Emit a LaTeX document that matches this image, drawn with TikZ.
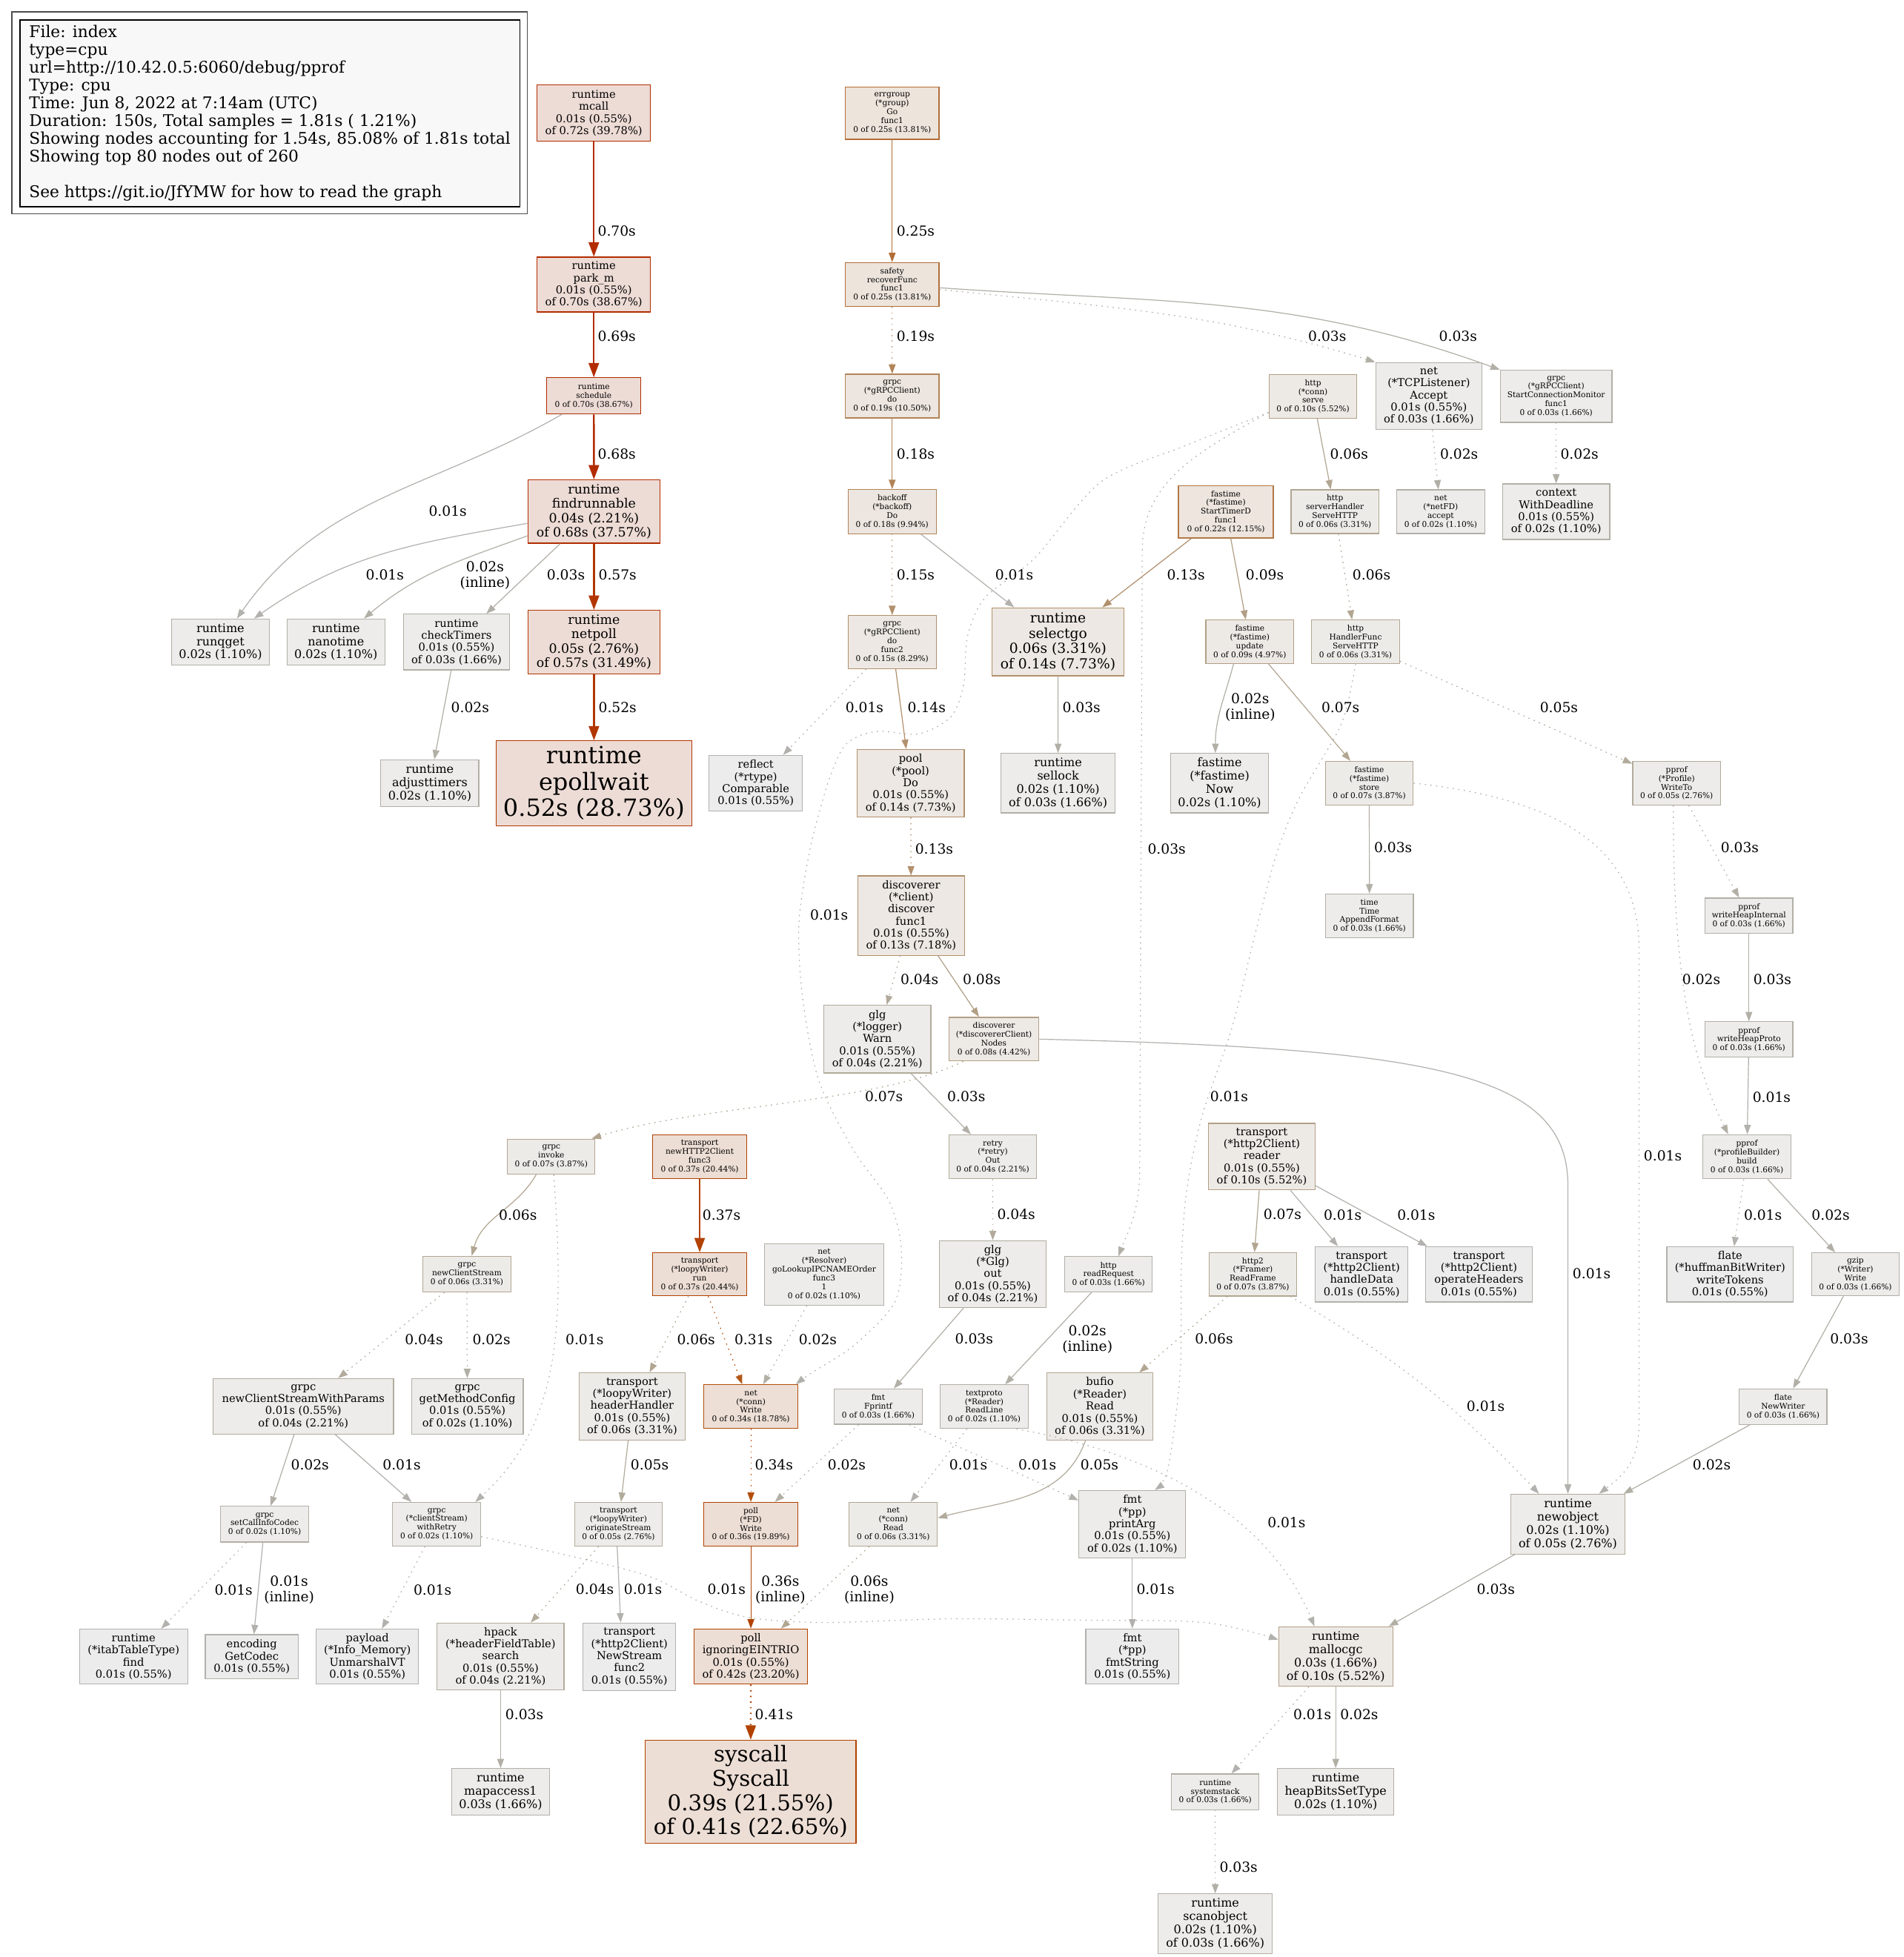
\documentclass[tikz,border=0pt]{standalone}
\usepackage{fontspec}
\setmainfont{DejaVu Serif}
\usepackage{tikz}
\usetikzlibrary{arrows.meta}
% edge / border colours, by share of total samples
\definecolor{ln70}{HTML}{B22C00}
\definecolor{ln55}{HTML}{B23600}
\definecolor{ln40}{HTML}{B24200}
\definecolor{ln34}{HTML}{B24D0A}
\definecolor{ln31}{HTML}{B25819}
\definecolor{ln25}{HTML}{B26E37}
\definecolor{ln22}{HTML}{B27846}
\definecolor{ln19}{HTML}{B28457}
\definecolor{ln14}{HTML}{B2906D}
\definecolor{ln09}{HTML}{B29F85}
\definecolor{ln07}{HTML}{B2A692}
\definecolor{ln05}{HTML}{B2AB9C}
\definecolor{ln03}{HTML}{B2AFA6}
\definecolor{ln01}{HTML}{B2B1AD}
% box fills
\definecolor{bg70}{HTML}{EDDBD5}
\definecolor{bg55}{HTML}{EDDCD5}
\definecolor{bg40}{HTML}{EDDED5}
\definecolor{bg34}{HTML}{EDDFD6}
\definecolor{bg25}{HTML}{EDE4DC}
\definecolor{bg22}{HTML}{EDE5DE}
\definecolor{bg19}{HTML}{EDE6E0}
\definecolor{bg14}{HTML}{EDE8E3}
\definecolor{bg09}{HTML}{EDEAE6}
\definecolor{bg07}{HTML}{EDEBE8}
\definecolor{bg05}{HTML}{EDECEA}
\definecolor{bg03}{HTML}{EDECEB}
\definecolor{bg01}{HTML}{EDECEC}
\definecolor{legendbg}{HTML}{F8F8F8}
\tikzset{
  fn/.style={draw, line width=.72pt, align=center, inner sep=1pt},
  wh/.style 2 args={minimum width=#1pt, minimum height=#2pt},
  k70/.style={fill=bg70, draw=ln70}, k55/.style={fill=bg55, draw=ln55},
  k40/.style={fill=bg40, draw=ln40}, k34/.style={fill=bg34, draw=ln34},
  k25/.style={fill=bg25, draw=ln25}, k22/.style={fill=bg22, draw=ln22},
  k19/.style={fill=bg19, draw=ln19}, k14/.style={fill=bg14, draw=ln14},
  k09/.style={fill=bg09, draw=ln09}, k07/.style={fill=bg07, draw=ln07},
  k05/.style={fill=bg05, draw=ln05}, k03/.style={fill=bg03, draw=ln03},
  k01/.style={fill=bg01, draw=ln01},
  s8/.style={font=\fontsize{6.3}{7.05}\selectfont},
  s11/.style={font=\fontsize{8.7}{9.7}\selectfont},
  s12/.style={font=\fontsize{9.5}{10.6}\selectfont},
  s13/.style={font=\fontsize{10.3}{11.45}\selectfont},
  s14/.style={font=\fontsize{11.1}{12.3}\selectfont},
  s22/.style={font=\fontsize{17.4}{19.4}\selectfont},
  s24/.style={font=\fontsize{19}{21.1}\selectfont},
  % call edges
  call/.style={draw=#1, line width=.72pt, -{Triangle[length=7.5pt,width=5.4pt]}},
  hotcall/.style={draw=#1, line width=1.45pt, -{Triangle[length=11.5pt,width=8.2pt]}},
  resid/.style={dash pattern=on 1pt off 3.5pt},
  wt/.style={font=\fontsize{11.1}{12.3}\selectfont, inner sep=0pt, align=center},
  legendframe/.style={draw=black!70, line width=.9pt},
  legendbox/.style={draw=black, fill=legendbg, line width=.9pt, align=left,
    font=\fontsize{12.9}{14.25}\selectfont}
}
\begin{document}
\begin{tikzpicture}[x=1pt, y=-1pt]
  \path[use as bounding box, fill=white] (0,0) rectangle (1525,1568);
  % legend
  \node[legendframe, wh={412.9}{161.9}] (frame) at (216.05,90.35) {};
  \node[legendbox, wh={400.5}{149.5}] (legend) at (216.25,90.75)
    {File: index\\type=cpu\\url=http://10.42.0.5:6060/debug/pprof\\Type: cpu\\Time: Jun 8, 2022 at 7:14am (UTC)\\Duration: 150s, Total samples = 1.81s ( 1.21\%)\\Showing nodes accounting for 1.54s, 85.08\% of 1.81s total\\Showing top 80 nodes out of 260\\[14.25pt]See https://git.io/JfYMW for how to read the graph};
  % scheduler
  \node[fn,k70,s11,wh={91}{45}] (mcall) at (475.7,90.6) {runtime\\mcall\\0.01s (0.55\%)\\of 0.72s (39.78\%)};
  \node[fn,k70,s11,wh={91}{44}] (parkm) at (475.7,228) {runtime\\park\_m\\0.01s (0.55\%)\\of 0.70s (38.67\%)};
  \node[fn,k70,s8,wh={75.4}{29}] (schedule) at (475.7,317.2) {runtime\\schedule\\0 of 0.70s (38.67\%)};
  \node[fn,k70,s13,wh={106}{50.7}] (findrunnable) at (475.8,409.9) {runtime\\findrunnable\\0.04s (2.21\%)\\of 0.68s (37.57\%)};
  \node[fn,k55,s13,wh={106}{50.7}] (netpoll) at (475.8,514.4) {runtime\\netpoll\\0.05s (2.76\%)\\of 0.57s (31.49\%)};
  \node[fn,k55,s24,wh={156.5}{68}] (epollwait) at (475.8,627.6) {runtime\\epollwait\\0.52s (28.73\%)};
  \node[fn,k03,s12,wh={78.4}{37}] (runqget) at (176.6,514.4) {runtime\\runqget\\0.02s (1.10\%)};
  \node[fn,k03,s12,wh={78.4}{37}] (nanotime) at (269.1,514.4) {runtime\\nanotime\\0.02s (1.10\%)};
  \node[fn,k03,s11,wh={85.3}{44.7}] (checktimers) at (365.7,514.4) {runtime\\checkTimers\\0.01s (0.55\%)\\of 0.03s (1.66\%)};
  \node[fn,k03,s12,wh={78.5}{37.6}] (adjusttimers) at (344.3,627.6) {runtime\\adjusttimers\\0.02s (1.10\%)};
  % errgroup / grpc client
  \node[fn,k25,s8,wh={75}{42}] (errgroup) at (714.7,90.6) {errgroup\\(*group)\\Go\\func1\\0 of 0.25s (13.81\%)};
  \node[fn,k25,s8,wh={75}{35}] (safety) at (714.7,227.9) {safety\\recoverFunc\\func1\\0 of 0.25s (13.81\%)};
  \node[fn,k19,s8,wh={75}{35}] (grpcdo) at (714.7,317.3) {grpc\\(*gRPCClient)\\do\\0 of 0.19s (10.50\%)};
  \node[fn,k19,s8,wh={70.6}{35.3}] (backoff) at (714.7,409.9) {backoff\\(*backoff)\\Do\\0 of 0.18s (9.94\%)};
  \node[fn,k14,s8,wh={70.6}{42.4}] (func2) at (714.7,514.4) {grpc\\(*gRPCClient)\\do\\func2\\0 of 0.15s (8.29\%)};
  \node[fn,k14,s14,wh={106}{54.4}] (selectgo) at (847.5,514.2) {runtime\\selectgo\\0.06s (3.31\%)\\of 0.14s (7.73\%)};
  \node[fn,k01,s11,wh={75}{44.6}] (reflect) at (605.4,627.5) {reflect\\(*rtype)\\Comparable\\0.01s (0.55\%)};
  \node[fn,k14,s11,wh={85.9}{54.1}] (pool) at (729.5,627.5) {pool\\(*pool)\\Do\\0.01s (0.55\%)\\of 0.14s (7.73\%)};
  \node[fn,k03,s12,wh={91.4}{47.7}] (sellock) at (847.6,627.5) {runtime\\sellock\\0.02s (1.10\%)\\of 0.03s (1.66\%)};
  % http / fastime / pprof
  \node[fn,k09,s8,wh={70.4}{35}] (serve) at (1051.8,317.5) {http\\(*conn)\\serve\\0 of 0.10s (5.52\%)};
  \node[fn,k03,s11,wh={85.2}{53.7}] (tcpaccept) at (1144.6,317.3) {net\\(*TCPListener)\\Accept\\0.01s (0.55\%)\\of 0.03s (1.66\%)};
  \node[fn,k03,s8,wh={89.5}{41.8}] (monitor) at (1246.6,317.5) {grpc\\(*gRPCClient)\\StartConnectionMonitor\\func1\\0 of 0.03s (1.66\%)};
  \node[fn,k22,s8,wh={76}{42}] (timerd) at (982,410) {fastime\\(*fastime)\\StartTimerD\\func1\\0 of 0.22s (12.15\%)};
  \node[fn,k07,s8,wh={70.4}{35}] (serverhandler) at (1069.4,410) {http\\serverHandler\\ServeHTTP\\0 of 0.06s (3.31\%)};
  \node[fn,k03,s8,wh={70.4}{35}] (netfd) at (1154.1,410) {net\\(*netFD)\\accept\\0 of 0.02s (1.10\%)};
  \node[fn,k03,s11,wh={85.8}{44.5}] (context) at (1246.6,410) {context\\WithDeadline\\0.01s (0.55\%)\\of 0.02s (1.10\%)};
  \node[fn,k09,s8,wh={70.5}{34.7}] (update) at (1001.2,514.2) {fastime\\(*fastime)\\update\\0 of 0.09s (4.97\%)};
  \node[fn,k07,s8,wh={70.5}{34.7}] (handlerfunc) at (1085.9,514.2) {http\\HandlerFunc\\ServeHTTP\\0 of 0.06s (3.31\%)};
  \node[fn,k03,s12,wh={78.5}{47.7}] (now) at (977,627.5) {fastime\\(*fastime)\\Now\\0.02s (1.10\%)};
  \node[fn,k07,s8,wh={70.4}{35}] (store) at (1096.9,627.5) {fastime\\(*fastime)\\store\\0 of 0.07s (3.87\%)};
  \node[fn,k05,s8,wh={70.4}{35}] (writeto) at (1343.1,627.5) {pprof\\(*Profile)\\WriteTo\\0 of 0.05s (2.76\%)};
  \node[fn,k03,s8,wh={70.4}{35}] (appendformat) at (1097,733.8) {time\\Time\\AppendFormat\\0 of 0.03s (1.66\%)};
  \node[fn,k03,s8,wh={70.4}{28.3}] (heapinternal) at (1401,733.7) {pprof\\writeHeapInternal\\0 of 0.03s (1.66\%)};
  \node[fn,k03,s8,wh={70.4}{28.3}] (heapproto) at (1401,832.8) {pprof\\writeHeapProto\\0 of 0.03s (1.66\%)};
  \node[fn,k03,s8,wh={71}{35.3}] (build) at (1399.4,926.8) {pprof\\(*profileBuilder)\\build\\0 of 0.03s (1.66\%)};
  % discoverer
  \node[fn,k14,s11,wh={85.4}{63.6}] (discover) at (729.9,733.6) {discoverer\\(*client)\\discover\\func1\\0.01s (0.55\%)\\of 0.13s (7.18\%)};
  \node[fn,k05,s11,wh={85.7}{54.2}] (warn) at (702.8,832.6) {glg\\(*logger)\\Warn\\0.01s (0.55\%)\\of 0.04s (2.21\%)};
  \node[fn,k09,s8,wh={72}{35}] (nodes) at (796.2,832.6) {discoverer\\(*discovererClient)\\Nodes\\0 of 0.08s (4.42\%)};
  \node[fn,k05,s8,wh={70.3}{35}] (retry) at (795.3,926.8) {retry\\(*retry)\\Out\\0 of 0.04s (2.21\%)};
  \node[fn,k09,s11,wh={85.2}{53.4}] (reader) at (1010.8,926.7) {transport\\(*http2Client)\\reader\\0.01s (0.55\%)\\of 0.10s (5.52\%)};
  \node[fn,k07,s8,wh={70}{28.1}] (invoke) at (441.6,926.7) {grpc\\invoke\\0 of 0.07s (3.87\%)};
  \node[fn,k40,s8,wh={75.4}{35}] (func3) at (560.5,926.7) {transport\\newHTTP2Client\\func3\\0 of 0.37s (20.44\%)};
  \node[fn,k03,s8,wh={95.7}{49.3}] (resolver) at (660.2,1021) {net\\(*Resolver)\\goLookupIPCNAMEOrder\\func3\\1\\0 of 0.02s (1.10\%)};
  \node[fn,k05,s11,wh={85.4}{53.7}] (glgout) at (795.3,1020.9) {glg\\(*Glg)\\out\\0.01s (0.55\%)\\of 0.04s (2.21\%)};
  \node[fn,k03,s8,wh={70.2}{28.3}] (readrequest) at (888,1021) {http\\readRequest\\0 of 0.03s (1.66\%)};
  \node[fn,k07,s8,wh={70.3}{34.7}] (readframe) at (1003.6,1021) {http2\\(*Framer)\\ReadFrame\\0 of 0.07s (3.87\%)};
  \node[fn,k01,s11,wh={74.3}{44.2}] (handledata) at (1090.8,1021) {transport\\(*http2Client)\\handleData\\0.01s (0.55\%)};
  \node[fn,k01,s11,wh={85.8}{44.2}] (operateheaders) at (1184.7,1021) {transport\\(*http2Client)\\operateHeaders\\0.01s (0.55\%)};
  \node[fn,k01,s11,wh={101.4}{44.2}] (writetokens) at (1385.9,1021) {flate\\(*huffmanBitWriter)\\writeTokens\\0.01s (0.55\%)};
  \node[fn,k03,s8,wh={70.4}{34.5}] (gzipwrite) at (1486.3,1021) {gzip\\(*Writer)\\Write\\0 of 0.03s (1.66\%)};
  % grpc stream / loopy writer
  \node[fn,k07,s8,wh={70.4}{28.6}] (newclientstream) at (374,1020.8) {grpc\\newClientStream\\0 of 0.06s (3.31\%)};
  \node[fn,k40,s8,wh={75.4}{34.5}] (loopyrun) at (560.5,1021) {transport\\(*loopyWriter)\\run\\0 of 0.37s (20.44\%)};
  \node[fn,k05,s11,wh={144.6}{44.5}] (withparams) at (243,1126.8) {grpc\\newClientStreamWithParams\\0.01s (0.55\%)\\of 0.04s (2.21\%)};
  \node[fn,k03,s11,wh={89.4}{44.5}] (methodconfig) at (374.4,1126.8) {grpc\\getMethodConfig\\0.01s (0.55\%)\\of 0.02s (1.10\%)};
  \node[fn,k07,s11,wh={85.1}{53.9}] (headerhandler) at (506.4,1126.9) {transport\\(*loopyWriter)\\headerHandler\\0.01s (0.55\%)\\of 0.06s (3.31\%)};
  \node[fn,k34,s8,wh={75.3}{35}] (connwrite) at (601.5,1127) {net\\(*conn)\\Write\\0 of 0.34s (18.78\%)};
  \node[fn,k03,s8,wh={70.9}{28.3}] (fprintf) at (703.5,1127) {fmt\\Fprintf\\0 of 0.03s (1.66\%)};
  \node[fn,k03,s8,wh={70.9}{35}] (readline) at (788.4,1127) {textproto\\(*Reader)\\ReadLine\\0 of 0.02s (1.10\%)};
  \node[fn,k07,s11,wh={85.2}{53.9}] (bufio) at (881.1,1127) {bufio\\(*Reader)\\Read\\0.01s (0.55\%)\\of 0.06s (3.31\%)};
  \node[fn,k03,s8,wh={70.1}{28.6}] (newwriter) at (1428.4,1127.1) {flate\\NewWriter\\0 of 0.03s (1.66\%)};
  \node[fn,k03,s8,wh={70.4}{28.7}] (callinfocodec) at (212,1221.2) {grpc\\setCallInfoCodec\\0 of 0.02s (1.10\%)};
  \node[fn,k03,s8,wh={70.4}{35}] (withretry) at (349.8,1221.2) {grpc\\(*clientStream)\\withRetry\\0 of 0.02s (1.10\%)};
  \node[fn,k05,s8,wh={70}{35}] (originate) at (495.4,1221.2) {transport\\(*loopyWriter)\\originateStream\\0 of 0.05s (2.76\%)};
  \node[fn,k40,s8,wh={75.3}{35}] (fdwrite) at (601.5,1221.2) {poll\\(*FD)\\Write\\0 of 0.36s (19.89\%)};
  \node[fn,k07,s8,wh={70.6}{35}] (connread) at (715.6,1221.2) {net\\(*conn)\\Read\\0 of 0.06s (3.31\%)};
  \node[fn,k03,s11,wh={85.5}{54.3}] (printarg) at (907.1,1221.3) {fmt\\(*pp)\\printArg\\0.01s (0.55\%)\\of 0.02s (1.10\%)};
  \node[fn,k05,s12,wh={91.3}{48}] (newobject) at (1256,1221.2) {runtime\\newobject\\0.02s (1.10\%)\\of 0.05s (2.76\%)};
  % leaves
  \node[fn,k01,s11,wh={86.8}{44}] (itabfind) at (107,1327.3) {runtime\\(*itabTableType)\\find\\0.01s (0.55\%)};
  \node[fn,k01,s11,wh={74.5}{35.1}] (getcodec) at (201.7,1327.3) {encoding\\GetCodec\\0.01s (0.55\%)};
  \node[fn,k01,s11,wh={81.8}{44}] (unmarshal) at (294.3,1327.3) {payload\\(*Info\_Memory)\\UnmarshalVT\\0.01s (0.55\%)};
  \node[fn,k05,s11,wh={101.7}{53.6}] (hpack) at (401,1327.2) {hpack\\(*headerFieldTable)\\search\\0.01s (0.55\%)\\of 0.04s (2.21\%)};
  \node[fn,k01,s11,wh={74.3}{54}] (newstream) at (504.2,1327.4) {transport\\(*http2Client)\\NewStream\\func2\\0.01s (0.55\%)};
  \node[fn,k40,s11,wh={90.9}{44.2}] (eintrio) at (601.5,1327.3) {poll\\ignoringEINTRIO\\0.01s (0.55\%)\\of 0.42s (23.20\%)};
  \node[fn,k01,s11,wh={74.6}{44.2}] (fmtstring) at (907.1,1327.3) {fmt\\(*pp)\\fmtString\\0.01s (0.55\%)};
  \node[fn,k09,s12,wh={91.3}{47.8}] (mallocgc) at (1070,1327.3) {runtime\\mallocgc\\0.03s (1.66\%)\\of 0.10s (5.52\%)};
  \node[fn,k03,s12,wh={78.1}{37.1}] (mapaccess) at (401,1435.6) {runtime\\mapaccess1\\0.03s (1.66\%)};
  \node[fn,k40,s22,wh={168.9}{82.4}] (syscall) at (601.3,1435.5) {syscall\\Syscall\\0.39s (21.55\%)\\of 0.41s (22.65\%)};
  \node[fn,k03,s8,wh={70.2}{28.6}] (systemstack) at (973.5,1435.6) {runtime\\systemstack\\0 of 0.03s (1.66\%)};
  \node[fn,k03,s12,wh={93.1}{37.3}] (heapbits) at (1070,1435.7) {runtime\\heapBitsSetType\\0.02s (1.10\%)};
  \node[fn,k03,s12,wh={91.3}{47.8}] (scanobject) at (973.5,1541.3) {runtime\\scanobject\\0.02s (1.10\%)\\of 0.03s (1.66\%)};

  % edges: scheduler
  \draw[hotcall=ln70] (mcall) -- (parkm) node[wt] at (494.1,185) {0.70s};
  \draw[hotcall=ln70] (parkm) -- (schedule) node[wt] at (494.1,269.4) {0.69s};
  \draw[hotcall=ln70] (schedule) -- (findrunnable) node[wt] at (494.1,363.7) {0.68s};
  \draw[call=ln01] (schedule.210) to[out=210,in=55] (runqget) node[wt] at (358.7,409.5) {0.01s};
  \draw[call=ln01] (findrunnable.190) to[out=190,in=35] (runqget) node[wt] at (308.3,460.6) {0.01s};
  \draw[call=ln03] (findrunnable.200) to[out=200,in=40] (nanotime) node[wt] at (388.5,461) {0.02s\\(inline)};
  \draw[call=ln03] (findrunnable) -- (checktimers) node[wt] at (453.3,460.6) {0.03s};
  \draw[hotcall=ln55] (findrunnable) -- (netpoll) node[wt] at (494.7,460.6) {0.57s};
  \draw[hotcall=ln55] (netpoll) -- (epollwait) node[wt] at (494.7,567) {0.52s};
  \draw[call=ln03] (checktimers) -- (adjusttimers) node[wt] at (376.6,567) {0.02s};
  % edges: errgroup branch
  \draw[call=ln25] (errgroup) -- (safety) node[wt] at (733.5,184.8) {0.25s};
  \draw[call=ln19, resid] (safety) -- (grpcdo) node[wt] at (733.5,269.1) {0.19s};
  \draw[call=ln03, resid] (safety.354) to[out=354,in=163] (tcpaccept.north west) node[wt] at (1063.2,269.1) {0.03s};
  \draw[call=ln03] (safety.356) to[out=356,in=160] (monitor.north west) node[wt] at (1168,269.1) {0.03s};
  \draw[call=ln19] (grpcdo) -- (backoff) node[wt] at (733.5,363.8) {0.18s};
  \draw[call=ln14, resid] (backoff) -- (func2) node[wt] at (733.5,460.3) {0.15s};
  \draw[call=ln01] (backoff) -- (selectgo) node[wt] at (812.5,460.3) {0.01s};
  \draw[call=ln14] (timerd) -- (selectgo) node[wt] at (950,460.3) {0.13s};
  \draw[call=ln09] (timerd) -- (update) node[wt] at (1013.2,460.3) {0.09s};
  \draw[call=ln01, resid] (func2) -- (reflect) node[wt] at (692.5,566.6) {0.01s};
  \draw[call=ln14] (func2) -- (pool) node[wt] at (742.3,566.6) {0.14s};
  \draw[call=ln03] (selectgo) -- (sellock) node[wt] at (866.3,566.6) {0.03s};
  \draw[call=ln14, resid] (pool) -- (discover) node[wt] at (748.3,680) {0.13s};
  % edges: http server
  \draw[call=ln07] (serve) -- (serverhandler) node[wt] at (1080.7,363.9) {0.06s};
  \draw[call=ln03, resid] (serve.200) .. controls (960,362) and (916,385) .. (915,440) -- (913,940)
    .. controls (912,975) and (902,990) .. ([xshift=8pt]readrequest.north) node[wt] at (934.6,680) {0.03s};
  \draw[call=ln01, resid] plot[smooth] coordinates {(serve.200) (949.8,357) (882,386) (829,447) (789,479)
    (775,510) (772,548) (762,574) (736,588) (702,586) (678,596) (664,625) (649,680) (640,740) (643,800)
    (656,866) (684,922) (712,962) (722,1000) (717,1043) (684,1078) (650,1100) ([xshift=-2pt]connwrite.north east)}
    node[wt] at (664.2,733) {0.01s};
  \draw[call=ln03, resid] (tcpaccept) -- (netfd) node[wt] at (1168.8,363.9) {0.02s};
  \draw[call=ln03, resid] (monitor) -- (context) node[wt] at (1265.3,363.9) {0.02s};
  \draw[call=ln07, resid] (serverhandler) -- (handlerfunc) node[wt] at (1098.7,460.3) {0.06s};
  \draw[call=ln05, resid] (handlerfunc) -- (writeto) node[wt] at (1248.8,566.6) {0.05s};
  \draw[call=ln01, resid] plot[smooth] coordinates {(handlerfunc.south) (1074.5,580) (1041.5,638) (1023,683)
    (1005,750) (987,823) (963,894) (951,951) (946.5,1008) (945.5,1098) (936,1175) ([xshift=18pt]printarg.north)}
    node[wt] at (984.6,878.7) {0.01s};
  \draw[call=ln03] ([xshift=-13pt]update.south) to[out=255,in=90] ([xshift=-3.4pt]now.north) node[wt] at (1001.5,566.6) {0.02s\\(inline)};
  \draw[call=ln07] (update) -- (store) node[wt] at (1073.8,566.6) {0.07s};
  \draw[call=ln03] (store) -- (appendformat) node[wt] at (1116,679.2) {0.03s};
  \draw[call=ln01, resid] (store.east) .. controls (1250,640) and (1313,680) .. (1313,760) -- (1313,1140)
    .. controls (1313,1172) and (1300,1182) .. ([xshift=25pt]newobject.north) node[wt] at (1332,926) {0.01s};
  \draw[call=ln03, resid] (writeto) -- (heapinternal) node[wt] at (1393.7,679.2) {0.03s};
  \draw[call=ln03, resid] ([xshift=-2.6pt]writeto.south) .. controls (1340,760) and (1350,840) .. ([xshift=-15pt]build.north)
    node[wt] at (1362.9,784.7) {0.02s};
  \draw[call=ln03] (heapinternal) -- (heapproto) node[wt] at (1419.8,784.7) {0.03s};
  \draw[call=ln01] (heapproto) -- (build) node[wt] at (1419.2,879) {0.01s};
  \draw[call=ln01, resid] (build) -- (writetokens) node[wt] at (1412.2,973.3) {0.01s};
  \draw[call=ln03] (build) -- (gzipwrite) node[wt] at (1466.5,973.3) {0.02s};
  \draw[call=ln03] (gzipwrite) -- (newwriter) node[wt] at (1481.3,1072.7) {0.03s};
  \draw[call=ln03] (newwriter) -- (newobject) node[wt] at (1371.2,1173.3) {0.02s};
  \draw[call=ln03] (newobject) -- (mallocgc) node[wt] at (1198.3,1273.5) {0.03s};
  % edges: discoverer / transport reader
  \draw[call=ln05, resid] (discover) -- (warn) node[wt] at (736.6,784.5) {0.04s};
  \draw[call=ln09] (discover) -- (nodes) node[wt] at (786.5,784.5) {0.08s};
  \draw[call=ln07, resid] (nodes.216) .. controls (700,885) and (560,885) .. ([xshift=-3pt]invoke.north east)
    node[wt] at (708.1,878.7) {0.07s};
  \draw[call=ln01] (nodes.east) .. controls (1150,840) and (1256,860) .. (1256,950) -- (newobject.north)
    node[wt] at (1275,1020.5) {0.01s};
  \draw[call=ln03] (warn) -- (retry) node[wt] at (774.1,878.7) {0.03s};
  \draw[call=ln05, resid] (retry) -- (glgout) node[wt] at (814.1,973.2) {0.04s};
  \draw[call=ln03] (glgout) -- (fprintf) node[wt] at (780.3,1072.8) {0.03s};
  \draw[call=ln07] (reader) -- (readframe) node[wt] at (1027.4,973.2) {0.07s};
  \draw[call=ln01] (reader) -- (handledata) node[wt] at (1075.6,973.3) {0.01s};
  \draw[call=ln01] (reader) -- (operateheaders) node[wt] at (1134.5,973.3) {0.01s};
  \draw[call=ln07, resid] (readframe) -- (bufio) node[wt] at (972.5,1072.6) {0.06s};
  \draw[call=ln01, resid] (readframe) to[bend left=8] (newobject) node[wt] at (1190.1,1126.4) {0.01s};
  \draw[call=ln03] (readrequest) -- (readline) node[wt] at (871.1,1073) {0.02s\\(inline)};
  % edges: grpc invoke / loopy writer
  \draw[call=ln07] (invoke.230) to[out=240,in=75] (newclientstream) node[wt] at (414.9,973.4) {0.06s};
  \draw[call=ln01, resid] ([xshift=2pt]invoke.south) .. controls (452,1060) and (450,1140) .. ([xshift=31pt]withretry.north)
    node[wt] at (468.3,1073) {0.01s};
  \draw[hotcall=ln40] (func3) -- (loopyrun) node[wt] at (578,973.5) {0.37s};
  \draw[call=ln07, resid] (loopyrun) -- (headerhandler) node[wt] at (557.6,1073) {0.06s};
  \draw[call=ln31, resid] (loopyrun) -- (connwrite) node[wt] at (603.6,1073) {0.31s};
  \draw[call=ln03, resid] (resolver) -- (connwrite) node[wt] at (655.1,1073) {0.02s};
  \draw[call=ln05, resid] (newclientstream) -- (withparams) node[wt] at (339.6,1073) {0.04s};
  \draw[call=ln03, resid] (newclientstream) -- (methodconfig) node[wt] at (393.7,1073) {0.02s};
  \draw[call=ln03] (withparams) -- (callinfocodec) node[wt] at (248.3,1173.5) {0.02s};
  \draw[call=ln01] (withparams) -- (withretry) node[wt] at (321.8,1173.5) {0.01s};
  \draw[call=ln05] (headerhandler) -- (originate) node[wt] at (520.4,1173.6) {0.05s};
  \draw[call=ln34, resid] (connwrite) -- (fdwrite) node[wt] at (620,1173.7) {0.34s};
  \draw[call=ln03, resid] (fprintf) -- (fdwrite) node[wt] at (678.3,1173.7) {0.02s};
  \draw[call=ln01, resid] ([xshift=-11pt]fprintf.south east) -- (printarg) node[wt] at (831,1173.7) {0.01s};
  \draw[call=ln01, resid] (readline) -- (connread) node[wt] at (775.7,1173.7) {0.01s};
  \draw[call=ln01, resid] ([xshift=-10pt]readline.south east) .. controls (900,1160) and (1010,1200) .. ([xshift=-17pt]mallocgc.north)
    node[wt] at (1030.6,1220.1) {0.01s};
  \draw[call=ln05] ([xshift=-11.6pt]bufio.south) to[out=250,in=15] ([yshift=5pt]connread.east) node[wt] at (880.7,1173.7) {0.05s};
  % edges: bottom rows
  \draw[call=ln01, resid] (callinfocodec) -- (itabfind) node[wt] at (187.1,1273.7) {0.01s};
  \draw[call=ln01] (callinfocodec) -- (getcodec) node[wt] at (231.6,1273.7) {0.01s\\(inline)};
  \draw[call=ln01, resid] (withretry) -- (unmarshal) node[wt] at (346.5,1273.7) {0.01s};
  \draw[call=ln01, resid] plot[smooth] coordinates {([yshift=-10pt]withretry.east) (454,1246) (520,1263) (560,1283)
    (600,1296) (660,1300) (760,1297) (860,1298) (965,1300) ([yshift=13.6pt]mallocgc.west)}
    node[wt] at (582,1273.6) {0.01s};
  \draw[call=ln05, resid] (originate) -- (hpack) node[wt] at (476.5,1273.6) {0.04s};
  \draw[call=ln01] ([xshift=-1pt]originate.south) -- ([xshift=-7pt]newstream.north) node[wt] at (515.1,1273.6) {0.01s};
  \draw[call=ln40] (fdwrite) -- (eintrio) node[wt] at (625.1,1273.7) {0.36s\\(inline)};
  \draw[call=ln07, resid] (connread) -- (eintrio) node[wt] at (696.4,1273.7) {0.06s\\(inline)};
  \draw[call=ln01] (printarg) -- (fmtstring) node[wt] at (925.7,1273.6) {0.01s};
  \draw[call=ln03] (hpack) -- (mapaccess) node[wt] at (420.1,1373.6) {0.03s};
  \draw[hotcall=ln40, resid] (eintrio) -- (syscall) node[wt] at (620,1373.6) {0.41s};
  \draw[call=ln01, resid] (mallocgc) -- (systemstack) node[wt] at (1051.3,1373.5) {0.01s};
  \draw[call=ln03] (mallocgc) -- (heapbits) node[wt] at (1088.8,1373.5) {0.02s};
  \draw[call=ln03, resid] (systemstack) -- (scanobject) node[wt] at (992.2,1496.1) {0.03s};
\end{tikzpicture}
\end{document}
